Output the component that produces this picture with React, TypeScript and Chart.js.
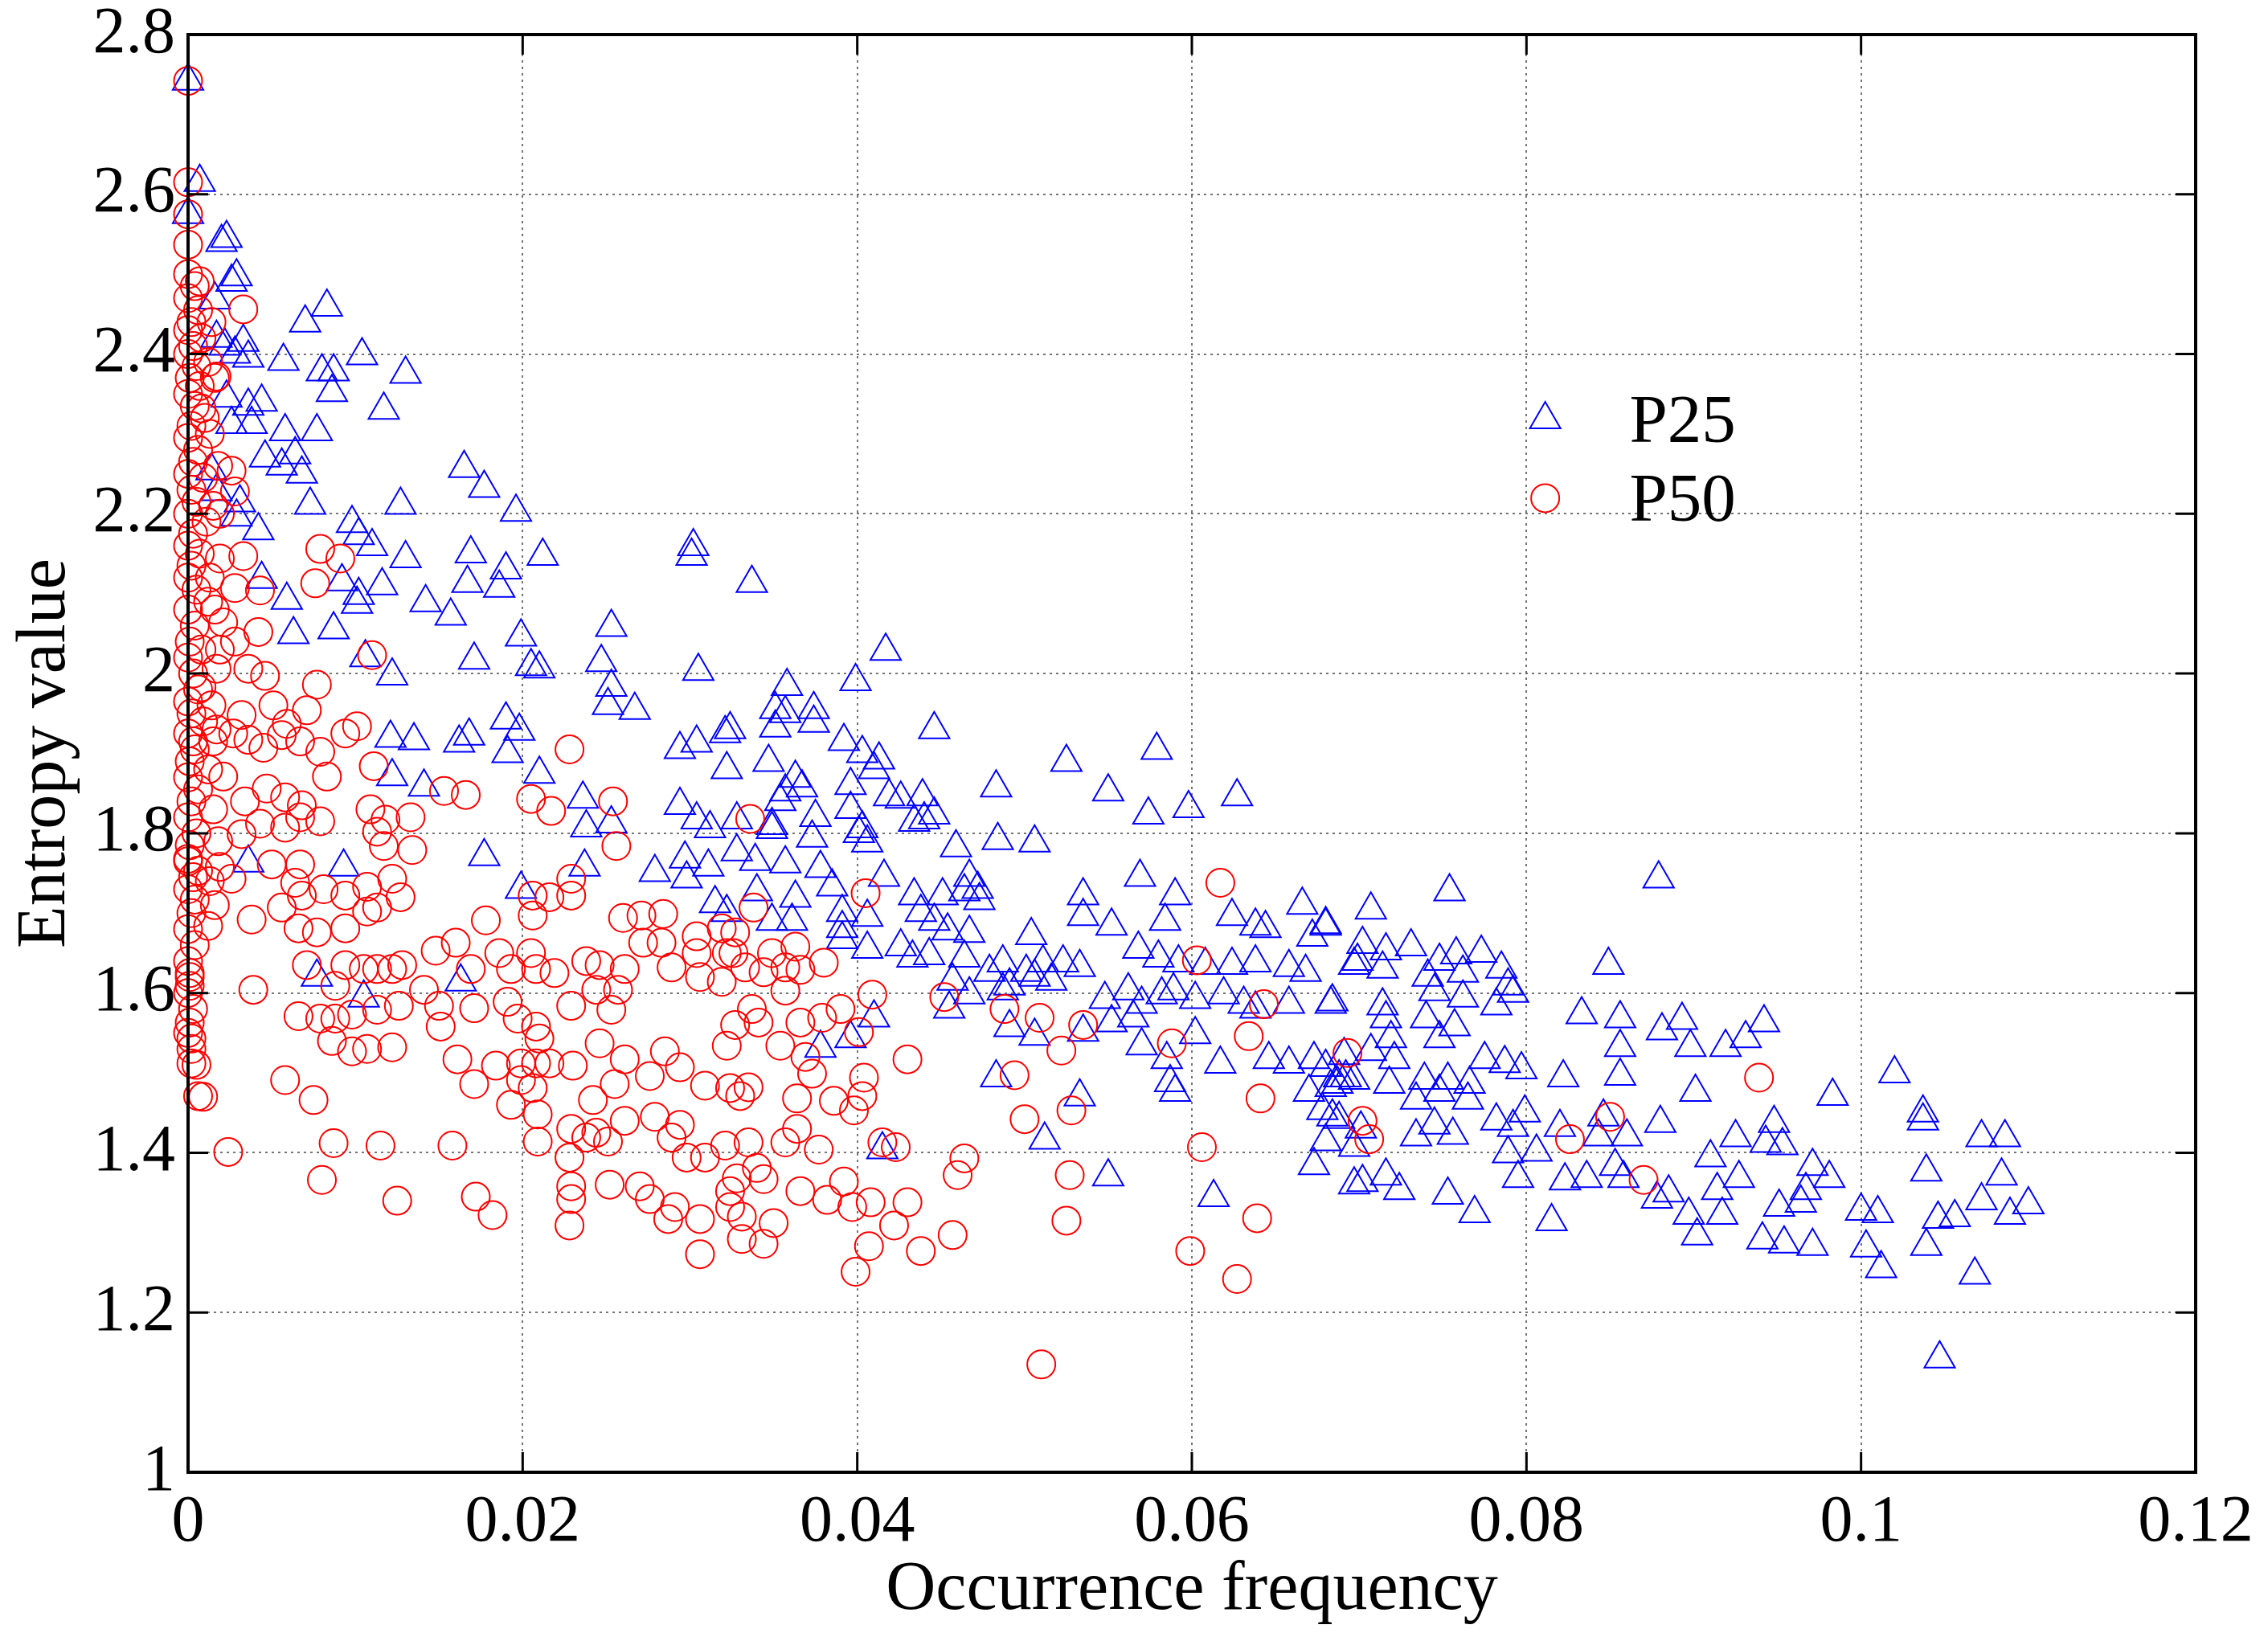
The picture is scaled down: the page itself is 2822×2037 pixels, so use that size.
import React, { useEffect, useRef } from 'react';
import { Chart, registerables } from 'chart.js';

Chart.register(...registerables);

type Pt = [number, number];

// ---------- axis ticks ----------
const xMin = 0;
const xMax = 0.12;
const xStep = 0.02;
const yMin = 1;
const yMax = 2.8;
const yStep = 0.2;

// ---------- P25 (blue triangles) ----------
const p25Upper: Pt[] = [
  [0, 2.742], [0, 2.575], [0.0007, 2.615], [0.0023, 2.545], [0.002, 2.54], [0.0029, 2.497], [0.0026, 2.49], [0.0016, 2.468], [0.0083, 2.459], [0.007, 2.439],
  [0.0017, 2.42], [0.0022, 2.41], [0.0033, 2.415], [0.0028, 2.4], [0.0036, 2.395], [0.0057, 2.391], [0.008, 2.378], [0.0087, 2.378], [0.0104, 2.398], [0.013, 2.375],
  [0.0086, 2.352], [0.0117, 2.33], [0.0023, 2.345], [0.0036, 2.335], [0.0044, 2.34], [0.0026, 2.312], [0.0038, 2.312], [0.0058, 2.303], [0.0077, 2.303], [0.0046, 2.27],
  [0.0056, 2.26], [0.0064, 2.274], [0.0068, 2.25], [0.0014, 2.254], [0.0165, 2.257], [0.0177, 2.232], [0.0017, 2.228], [0.0031, 2.214], [0.0029, 2.196], [0.0073, 2.211],
  [0.0127, 2.211], [0.0196, 2.202], [0.0042, 2.179], [0.0098, 2.188], [0.0102, 2.173], [0.011, 2.159], [0.013, 2.144], [0.0169, 2.15], [0.019, 2.13], [0.0212, 2.147],
  [0.0302, 2.159], [0.0301, 2.147], [0.0044, 2.118], [0.0059, 2.092], [0.0092, 2.115], [0.0102, 2.098], [0.0116, 2.11], [0.0101, 2.087], [0.0142, 2.089], [0.0167, 2.113],
  [0.0186, 2.107], [0.0157, 2.072], [0.0337, 2.113], [0.0253, 2.058], [0.0063, 2.049], [0.0087, 2.055], [0.0199, 2.046], [0.0106, 2.02], [0.0171, 2.017], [0.0122, 1.997],
  [0.0205, 2.009], [0.021, 2.006], [0.0247, 2.014], [0.0305, 2.003], [0.0253, 1.983], [0.0251, 1.96], [0.0267, 1.954], [0.019, 1.942], [0.0198, 1.928], [0.0121, 1.919],
  [0.0135, 1.916], [0.0162, 1.913], [0.0168, 1.922], [0.0294, 1.905], [0.0304, 1.913], [0.0321, 1.925],
];

const p25LeftLow: Pt[] = [
  [0.0191, 1.9], [0.0122, 1.871], [0.0141, 1.858], [0.021, 1.874], [0.0236, 1.843], [0.0238, 1.807], [0.0253, 1.812], [0.0177, 1.771], [0.0036, 1.763], [0.0237, 1.758],
  [0.0093, 1.758], [0.0199, 1.73], [0.0294, 1.835], [0.0304, 1.817], [0.0312, 1.806], [0.0297, 1.768], [0.0311, 1.758], [0.0279, 1.751], [0.0298, 1.743], [0.0315, 1.712],
  [0.0077, 1.62], [0.0163, 1.614], [0.0105, 1.594],
];

const p25Middle: Pt[] = [
  [0.0417, 2.028], [0.0399, 1.99], [0.0358, 1.984], [0.0351, 1.955], [0.0357, 1.95], [0.0374, 1.955], [0.0374, 1.938], [0.0351, 1.932], [0.0446, 1.93], [0.0324, 1.93],
  [0.0392, 1.915], [0.0403, 1.9], [0.041, 1.88], [0.0413, 1.892], [0.0347, 1.889], [0.0322, 1.88], [0.0525, 1.889], [0.0579, 1.904],
  [0.0363, 1.869], [0.0357, 1.852], [0.0367, 1.857], [0.0354, 1.84], [0.0349, 1.81], [0.0375, 1.82], [0.0396, 1.86], [0.0396, 1.83],
  [0.0419, 1.846], [0.0426, 1.843], [0.0439, 1.846], [0.0446, 1.823], [0.044, 1.817], [0.0434, 1.814], [0.0483, 1.857], [0.055, 1.852], [0.0574, 1.823], [0.0598, 1.831], [0.0627, 1.846],
  [0.0328, 1.817], [0.0349, 1.805], [0.0373, 1.794], [0.0401, 1.8], [0.0406, 1.788], [0.0403, 1.806], [0.0459, 1.782], [0.0484, 1.791], [0.0506, 1.788],
  [0.0328, 1.777], [0.0339, 1.765], [0.0357, 1.762], [0.0378, 1.756], [0.0416, 1.745], [0.0467, 1.745], [0.0472, 1.73], [0.0569, 1.745],
  [0.034, 1.727], [0.0363, 1.719], [0.0385, 1.733], [0.0434, 1.722], [0.0451, 1.722], [0.0464, 1.727], [0.0473, 1.716], [0.0535, 1.722], [0.059, 1.722], [0.0666, 1.71],
  [0.0322, 1.701], [0.0349, 1.69], [0.0361, 1.69], [0.0391, 1.681], [0.0391, 1.701], [0.0406, 1.695], [0.0438, 1.701], [0.0446, 1.69], [0.0454, 1.678],
  [0.0535, 1.696], [0.0552, 1.684], [0.0584, 1.69], [0.0624, 1.696], [0.0638, 1.684], [0.0644, 1.681], [0.068, 1.684], [0.0672, 1.67], [0.0467, 1.675], [0.0504, 1.672],
  [0.0391, 1.667], [0.0406, 1.655], [0.0426, 1.658], [0.0433, 1.644], [0.0443, 1.647],
  [0.0464, 1.644], [0.0479, 1.626], [0.0487, 1.638], [0.0501, 1.626], [0.0511, 1.638], [0.0523, 1.638], [0.0533, 1.632],
  [0.0568, 1.655], [0.058, 1.644], [0.0592, 1.638], [0.0608, 1.635], [0.0624, 1.635], [0.0638, 1.638], [0.0658, 1.632], [0.0668, 1.626], [0.0697, 1.635],
  [0.0457, 1.615], [0.0467, 1.598], [0.0487, 1.603], [0.0491, 1.609], [0.0506, 1.62], [0.0516, 1.615],
  [0.0548, 1.592], [0.0562, 1.603], [0.057, 1.586], [0.0582, 1.598], [0.0589, 1.603], [0.0602, 1.592], [0.0619, 1.598], [0.0631, 1.586], [0.0638, 1.58], [0.0658, 1.586], [0.0683, 1.586],
  [0.0455, 1.58], [0.0491, 1.557], [0.0506, 1.546], [0.0535, 1.551], [0.0552, 1.563], [0.0565, 1.569], [0.041, 1.569], [0.0396, 1.543], [0.0378, 1.531],
  [0.057, 1.534], [0.0585, 1.517], [0.0602, 1.548], [0.0617, 1.511], [0.0646, 1.517], [0.0658, 1.511], [0.0673, 1.517], [0.0688, 1.494],
  [0.0587, 1.488], [0.059, 1.476], [0.067, 1.476], [0.0683, 1.482], [0.0692, 1.494], [0.0678, 1.453], [0.0688, 1.442], [0.0697, 1.407], [0.0673, 1.384],
  [0.0483, 1.494], [0.0533, 1.47], [0.0415, 1.404], [0.0512, 1.416], [0.055, 1.37], [0.0613, 1.344], [0.0697, 1.36],
];

const p25Right: Pt[] = [
  [0.0879, 1.743], [0.0754, 1.727], [0.0707, 1.704], [0.068, 1.686], [0.0702, 1.661], [0.0716, 1.653], [0.0731, 1.658], [0.0699, 1.64], [0.0714, 1.63],
  [0.0748, 1.64], [0.0758, 1.648], [0.0773, 1.65], [0.0785, 1.63], [0.0741, 1.62], [0.0762, 1.625], [0.0789, 1.609], [0.0792, 1.6], [0.0849, 1.635],
  [0.0684, 1.589], [0.0714, 1.584], [0.0745, 1.602], [0.0762, 1.594], [0.0782, 1.584], [0.074, 1.568], [0.0716, 1.568], [0.0757, 1.558], [0.0748, 1.543], [0.0719, 1.543],
  [0.0833, 1.573], [0.0856, 1.568], [0.0881, 1.553], [0.0893, 1.566], [0.0898, 1.532], [0.0919, 1.532], [0.0931, 1.543], [0.0942, 1.563], [0.0856, 1.532],
  [0.0691, 1.522], [0.0721, 1.517], [0.0707, 1.527], [0.068, 1.507], [0.0687, 1.486], [0.0697, 1.491], [0.0718, 1.486],
  [0.0775, 1.517], [0.0787, 1.512], [0.0797, 1.504], [0.0822, 1.494], [0.0856, 1.496], [0.0901, 1.476],
  [0.0739, 1.491], [0.0753, 1.491], [0.0766, 1.486], [0.0748, 1.476], [0.0734, 1.466], [0.0765, 1.466],
  [0.102, 1.499], [0.0983, 1.471], [0.1037, 1.45], [0.1037, 1.44],
  [0.0684, 1.445], [0.0701, 1.43], [0.068, 1.414], [0.0734, 1.42], [0.0756, 1.422], [0.0745, 1.435], [0.0782, 1.44], [0.0799, 1.45], [0.0792, 1.432],
  [0.082, 1.432], [0.0846, 1.445], [0.0843, 1.42], [0.086, 1.42], [0.088, 1.437], [0.0925, 1.419], [0.0948, 1.437], [0.0943, 1.412], [0.0953, 1.409], [0.1072, 1.419], [0.1086, 1.419],
  [0.0789, 1.399], [0.0806, 1.401], [0.0795, 1.368], [0.0823, 1.365], [0.0836, 1.368], [0.0853, 1.383], [0.0858, 1.368],
  [0.0702, 1.363], [0.0716, 1.371], [0.0724, 1.353], [0.0753, 1.347], [0.0769, 1.324],
  [0.091, 1.394], [0.0927, 1.368], [0.0914, 1.353], [0.0885, 1.35], [0.0878, 1.342], [0.0971, 1.383], [0.0981, 1.368], [0.0967, 1.353], [0.0964, 1.337],
  [0.1039, 1.376], [0.1084, 1.371], [0.1072, 1.34], [0.11, 1.335], [0.1089, 1.322], [0.0815, 1.314],
  [0.0897, 1.322], [0.0917, 1.322], [0.0951, 1.332], [0.0902, 1.296], [0.0941, 1.291], [0.0954, 1.286], [0.0971, 1.283],
  [0.1, 1.327], [0.101, 1.324], [0.1003, 1.281], [0.1012, 1.255], [0.1039, 1.283], [0.1046, 1.317], [0.1056, 1.319], [0.1068, 1.247], [0.1047, 1.142],
];

// ---------- P50 (red circles) ----------
const p50Column: Pt[] = [
  [0, 2.742], [0, 2.615], [0, 2.575], [0, 2.537], [0.0007, 2.491],
  [0, 2.5], [0.0004, 2.485], [0, 2.47], [0.0006, 2.455], [0.0002, 2.44], [0, 2.43], [0.0008, 2.42], [0.0003, 2.41], [0, 2.4], [0.0005, 2.385],
  [0.0012, 2.39], [0.0001, 2.37], [0.0007, 2.36], [0, 2.35], [0.0004, 2.335], [0.001, 2.32], [0.0002, 2.31], [0, 2.295], [0.0006, 2.28], [0.0003, 2.265],
  [0, 2.25], [0.0009, 2.245], [0.0002, 2.23], [0.0005, 2.215], [0, 2.2], [0.0011, 2.19], [0.0003, 2.175], [0, 2.16], [0.0007, 2.15], [0.0002, 2.135],
  [0, 2.12], [0.0005, 2.105], [0.0012, 2.09], [0, 2.08], [0.0004, 2.06], [0.0001, 2.04], [0.0008, 2.03], [0, 2.02], [0.0003, 2.0], [0.0006, 1.98],
  [0, 1.965], [0.0002, 1.95], [0.0009, 1.94], [0, 1.925], [0.0004, 1.905], [0.0001, 1.89], [0, 1.87], [0.0006, 1.855], [0.0002, 1.84], [0, 1.82],
  [0.0005, 1.8], [0.0001, 1.785], [0, 1.765], [0.0003, 1.745], [0, 1.73], [0.0002, 1.7], [0, 1.68], [0.0004, 1.66], [0, 1.64], [0.0001, 1.62],
  [0, 1.6], [0.0003, 1.58], [0, 1.55], [0.0002, 1.53], [0.0005, 1.51], [0.0009, 1.47],
  [0.0014, 2.44], [0.0016, 2.37], [0.0013, 2.3], [0.0018, 2.26], [0.0015, 2.21], [0.0013, 2.12], [0.0016, 2.08], [0.0019, 2.03], [0.0014, 1.96], [0.0017, 1.93],
  [0.0012, 1.88], [0.0015, 1.83], [0.0018, 1.79], [0.0013, 1.74], [0.0016, 1.71],
];

const p50Upper: Pt[] = [
  [0.0033, 2.456], [0.0017, 2.372], [0.0008, 2.332], [0.0026, 2.254], [0.0028, 2.228], [0.0019, 2.2], [0.0033, 2.147], [0.0019, 2.144], [0.0079, 2.156], [0.0091, 2.144],
  [0.0076, 2.113], [0.0043, 2.104], [0.0028, 2.107], [0.0021, 2.064], [0.0042, 2.052], [0.0028, 2.04], [0.011, 2.023], [0.0077, 1.986], [0.0046, 1.997], [0.0036, 2.006],
  [0.0017, 2.006], [0.0008, 1.983], [0.0032, 1.948], [0.0051, 1.96], [0.0071, 1.954], [0.0059, 1.937], [0.0101, 1.934], [0.0094, 1.925], [0.0228, 1.905],
];

const p50LeftMid: Pt[] = [
  [0.0003, 1.915], [0.0015, 1.915], [0.0027, 1.925], [0.0036, 1.917], [0.0045, 1.907], [0.0056, 1.923], [0.0067, 1.915], [0.0079, 1.902], [0.0083, 1.871], [0.0111, 1.884],
  [0.0021, 1.871], [0.0034, 1.84], [0.0047, 1.856], [0.0058, 1.845], [0.0068, 1.835], [0.0079, 1.815], [0.0032, 1.799], [0.0043, 1.812], [0.0058, 1.807], [0.0067, 1.82],
  [0.0109, 1.83], [0.0118, 1.817], [0.0133, 1.82], [0.0153, 1.853], [0.0166, 1.848], [0.0205, 1.843], [0.0217, 1.828], [0.0254, 1.84], [0.0256, 1.784],
  [0.0113, 1.802], [0.0117, 1.784], [0.0134, 1.779], [0, 1.768], [0.0006, 1.753], [0.0019, 1.758], [0.0026, 1.743], [0.005, 1.761], [0.0067, 1.761], [0.0064, 1.738], [0.0068, 1.722],
  [0.0081, 1.73], [0.0094, 1.722], [0.0107, 1.733], [0.0113, 1.707], [0.0004, 1.717], [0.0012, 1.684], [0.0038, 1.692], [0.0056, 1.707], [0.0066, 1.681], [0.0077, 1.676],
  [0.0094, 1.681], [0.0107, 1.702], [0.0127, 1.72], [0.0122, 1.743], [0.0178, 1.691], [0.0206, 1.722], [0.0216, 1.72], [0.0229, 1.722], [0.0229, 1.743], [0.0206, 1.697],
  [0.026, 1.694], [0.0271, 1.697], [0.0284, 1.699], [0.0272, 1.663], [0.0283, 1.663], [0.0304, 1.671], [0.0319, 1.681],
  [0.0001, 1.625], [0.0001, 1.609], [0.0039, 1.604], [0.0071, 1.635], [0.0088, 1.609], [0.0094, 1.635], [0.0105, 1.63], [0.0113, 1.63], [0.0122, 1.63], [0.0128, 1.635],
  [0.0148, 1.653], [0.016, 1.663], [0.0169, 1.63], [0.0186, 1.65], [0.0193, 1.63], [0.0205, 1.65], [0.0208, 1.63], [0.0219, 1.625], [0.0238, 1.64], [0.0246, 1.635],
  [0.0244, 1.604], [0.0257, 1.604], [0.0261, 1.63], [0.0229, 1.584], [0.0253, 1.579], [0.0289, 1.632], [0.0304, 1.65], [0.0306, 1.62], [0.0319, 1.614], [0.0326, 1.65],
  [0.0066, 1.571], [0.0079, 1.568], [0.0088, 1.568], [0.0098, 1.573], [0.0113, 1.579], [0.0126, 1.584], [0.0141, 1.604], [0.015, 1.584], [0.0151, 1.558], [0.0171, 1.581],
  [0.0191, 1.589], [0.0197, 1.568], [0.0208, 1.558], [0.021, 1.543], [0.0001, 1.563], [0.0002, 1.543], [0.0002, 1.512], [0.0086, 1.54], [0.0098, 1.527], [0.0107, 1.53], [0.0122, 1.532],
];

const p50LeftLow: Pt[] = [
  [0.0161, 1.517], [0.0171, 1.486], [0.0184, 1.509], [0.0199, 1.512], [0.0208, 1.512], [0.0216, 1.512], [0.023, 1.509], [0.0199, 1.491], [0.0206, 1.481], [0.0193, 1.46], [0.0209, 1.448],
  [0.0058, 1.491], [0.0075, 1.466], [0.0006, 1.471], [0.0246, 1.537], [0.0261, 1.517], [0.0285, 1.527], [0.0294, 1.507], [0.0309, 1.484], [0.0324, 1.481], [0.0276, 1.496],
  [0.0255, 1.486], [0.0242, 1.466], [0.0244, 1.425], [0.0238, 1.419], [0.0251, 1.414], [0.0229, 1.43], [0.0261, 1.44], [0.0279, 1.445], [0.0294, 1.435], [0.0289, 1.419],
  [0.0298, 1.394], [0.0309, 1.394], [0.0321, 1.409], [0.0024, 1.401], [0.0087, 1.412], [0.0115, 1.409], [0.0158, 1.409], [0.0209, 1.414], [0.0228, 1.394],
  [0.008, 1.366], [0.0125, 1.34], [0.0172, 1.345], [0.0182, 1.322], [0.0229, 1.358], [0.0229, 1.342], [0.0252, 1.36], [0.027, 1.358], [0.0276, 1.342], [0.0291, 1.332],
  [0.0287, 1.317], [0.0306, 1.317], [0.0324, 1.332], [0.0328, 1.368], [0.0228, 1.309], [0.0306, 1.273],
];

const p50Center: Pt[] = [
  [0.0409, 1.598], [0.0401, 1.551], [0.039, 1.58], [0.0379, 1.569], [0.0366, 1.563], [0.0386, 1.465], [0.0398, 1.453], [0.0404, 1.494], [0.0403, 1.471], [0.0423, 1.407],
  [0.043, 1.338], [0.0415, 1.413], [0.0422, 1.309], [0.0407, 1.283], [0.0408, 1.338],
  [0.0327, 1.676], [0.0322, 1.65], [0.0333, 1.632], [0.0344, 1.626], [0.0357, 1.632], [0.0366, 1.629], [0.038, 1.638], [0.0349, 1.65], [0.0363, 1.658], [0.0357, 1.603],
  [0.0337, 1.58], [0.0341, 1.563], [0.0327, 1.56], [0.0322, 1.534], [0.0369, 1.52], [0.0373, 1.499], [0.0354, 1.534], [0.0335, 1.482], [0.033, 1.471],
  [0.0364, 1.468], [0.0364, 1.43], [0.0335, 1.413], [0.0357, 1.413], [0.0377, 1.404], [0.0344, 1.367], [0.034, 1.381], [0.0324, 1.352], [0.0366, 1.352],
  [0.0382, 1.341], [0.0392, 1.364], [0.0397, 1.332], [0.0331, 1.32], [0.035, 1.312], [0.0331, 1.292], [0.0344, 1.286],
  [0.0336, 1.818], [0.0405, 1.725], [0.0338, 1.707],
];

const p50Right: Pt[] = [
  [0.0617, 1.738], [0.0603, 1.641], [0.0643, 1.586], [0.0634, 1.546], [0.0588, 1.537], [0.0693, 1.525], [0.0641, 1.468], [0.0606, 1.407], [0.0639, 1.318], [0.0599, 1.277],
  [0.0627, 1.242], [0.0452, 1.595], [0.0488, 1.58], [0.0509, 1.569], [0.0535, 1.56], [0.0522, 1.528], [0.043, 1.517], [0.0494, 1.497], [0.0528, 1.453], [0.05, 1.442],
  [0.0527, 1.372], [0.0525, 1.315], [0.0464, 1.393], [0.046, 1.372], [0.0438, 1.277], [0.0457, 1.297], [0.0399, 1.251], [0.051, 1.135],
  [0.0702, 1.44], [0.0706, 1.417], [0.0826, 1.417], [0.085, 1.445], [0.087, 1.366], [0.0939, 1.494],
];

const seriesLabels = ['P25', 'P50'];
const xTitle = 'Occurrence frequency';
const yTitle = 'Entropy value';

const SERIF = '"Liberation Serif", "Times New Roman", serif';

const toXY = (arr: Pt[]) => arr.map(([x, y]) => ({ x, y }));

const fmt = (v: any) => String(+Number(v).toFixed(3));

const framePlugin = {
  id: 'matlabFrame',
  afterDatasetsDraw(chart: any) {
    const { ctx, chartArea: a, scales } = chart;
    const L = 25;
    ctx.save();
    ctx.strokeStyle = '#000';
    ctx.lineWidth = 3;
    ctx.setLineDash([]);
    ctx.beginPath();
    for (const t of scales.x.ticks) {
      const px = scales.x.getPixelForValue(t.value);
      ctx.moveTo(px, a.bottom);
      ctx.lineTo(px, a.bottom - L);
      ctx.moveTo(px, a.top);
      ctx.lineTo(px, a.top + L);
    }
    for (const t of scales.y.ticks) {
      const py = scales.y.getPixelForValue(t.value);
      ctx.moveTo(a.left, py);
      ctx.lineTo(a.left + L, py);
      ctx.moveTo(a.right, py);
      ctx.lineTo(a.right - L, py);
    }
    ctx.stroke();
    ctx.lineWidth = 4;
    ctx.strokeRect(a.left, a.top, a.right - a.left, a.bottom - a.top);
    ctx.restore();
  },
};

const legendPlugin = {
  id: 'insideLegend',
  afterDraw(chart: any) {
    const { ctx, chartArea: a } = chart;
    const w = a.right - a.left;
    const h = a.bottom - a.top;
    const sx = a.left + 0.676 * w;
    const tx = a.left + 0.718 * w;
    const rows = [0.2678, 0.3225];
    chart.data.datasets.forEach((ds: any, i: number) => {
      const cy = a.top + rows[i] * h;
      ctx.save();
      ctx.strokeStyle = ds.borderColor;
      ctx.lineWidth = 2;
      ctx.beginPath();
      if (ds.pointStyle === 'triangle') {
        const r = ds.pointRadius;
        ctx.moveTo(sx, cy - r);
        ctx.lineTo(sx + (r * Math.sqrt(3)) / 2, cy + r / 2);
        ctx.lineTo(sx - (r * Math.sqrt(3)) / 2, cy + r / 2);
        ctx.closePath();
      } else {
        ctx.arc(sx, cy, ds.pointRadius, 0, Math.PI * 2);
      }
      ctx.stroke();
      ctx.fillStyle = '#000';
      ctx.font = `85px ${SERIF}`;
      ctx.textAlign = 'left';
      ctx.textBaseline = 'middle';
      ctx.fillText(ds.label, tx, cy + 6);
      ctx.restore();
    });
  },
};

export default function App() {
  const ref = useRef<HTMLCanvasElement>(null);

  useEffect(() => {
    document.body.style.margin = '0';
    document.body.style.overflow = 'hidden';
    const canvas = ref.current;
    if (!canvas) return;

    const tickFont = { family: SERIF, size: 82, lineHeight: 1 };
    const titleFont = { family: SERIF, size: 86, lineHeight: 1.2 };
    const gridOpts = { color: 'rgba(70,70,70,0.75)', lineWidth: 2, drawTicks: false };

    const chart = new Chart(canvas, {
      type: 'scatter',
      data: {
        datasets: [
          {
            label: seriesLabels[0],
            data: toXY([...p25Upper, ...p25LeftLow, ...p25Middle, ...p25Right]),
            pointStyle: 'triangle',
            pointRadius: 22,
            pointHoverRadius: 22,
            borderColor: '#0000ff',
            backgroundColor: 'rgba(0,0,0,0)',
            borderWidth: 2,
            pointBorderWidth: 2,
            order: 2,
            clip: false,
          } as any,
          {
            label: seriesLabels[1],
            data: toXY([...p50Column, ...p50Upper, ...p50LeftMid, ...p50LeftLow, ...p50Center, ...p50Right]),
            pointStyle: 'circle',
            pointRadius: 17.5,
            pointHoverRadius: 17.5,
            borderColor: '#ff0000',
            backgroundColor: 'rgba(0,0,0,0)',
            borderWidth: 2,
            pointBorderWidth: 2,
            order: 1,
            clip: false,
          } as any,
        ],
      },
      options: {
        animation: false,
        responsive: false,
        devicePixelRatio: 1,
        events: [],
        layout: { padding: { top: 43, right: 90, bottom: 0, left: 0 } },
        plugins: {
          legend: { display: false },
          tooltip: { enabled: false },
        },
        scales: {
          x: {
            type: 'linear',
            min: xMin,
            max: xMax,
            ticks: { stepSize: xStep, font: tickFont, color: '#000', padding: 22, callback: fmt, maxRotation: 0 },
            grid: gridOpts,
            border: { display: false, dash: [3, 5] },
            title: { display: true, text: xTitle, font: titleFont, color: '#000', padding: { top: 0, bottom: 6 } },
            afterFit(s: any) {
              s.height = 205;
              s.paddingLeft = 0;
              s.paddingRight = 0;
            },
          },
          y: {
            type: 'linear',
            min: yMin,
            max: yMax,
            ticks: { stepSize: yStep, font: tickFont, color: '#000', padding: 16, callback: fmt },
            grid: gridOpts,
            border: { display: false, dash: [3, 5] },
            title: { display: true, text: yTitle, font: titleFont, color: '#000', padding: { top: 6, bottom: 0 } },
            afterFit(s: any) {
              s.width = 234;
              s.paddingTop = 0;
              s.paddingBottom = 0;
            },
          },
        },
      } as any,
      plugins: [framePlugin, legendPlugin],
    });

    return () => chart.destroy();
  }, []);

  return (
    <div style={{ width: 2822, height: 2037, background: '#fff' }}>
      <canvas ref={ref} width={2822} height={2037} style={{ display: 'block' }} />
    </div>
  );
}
